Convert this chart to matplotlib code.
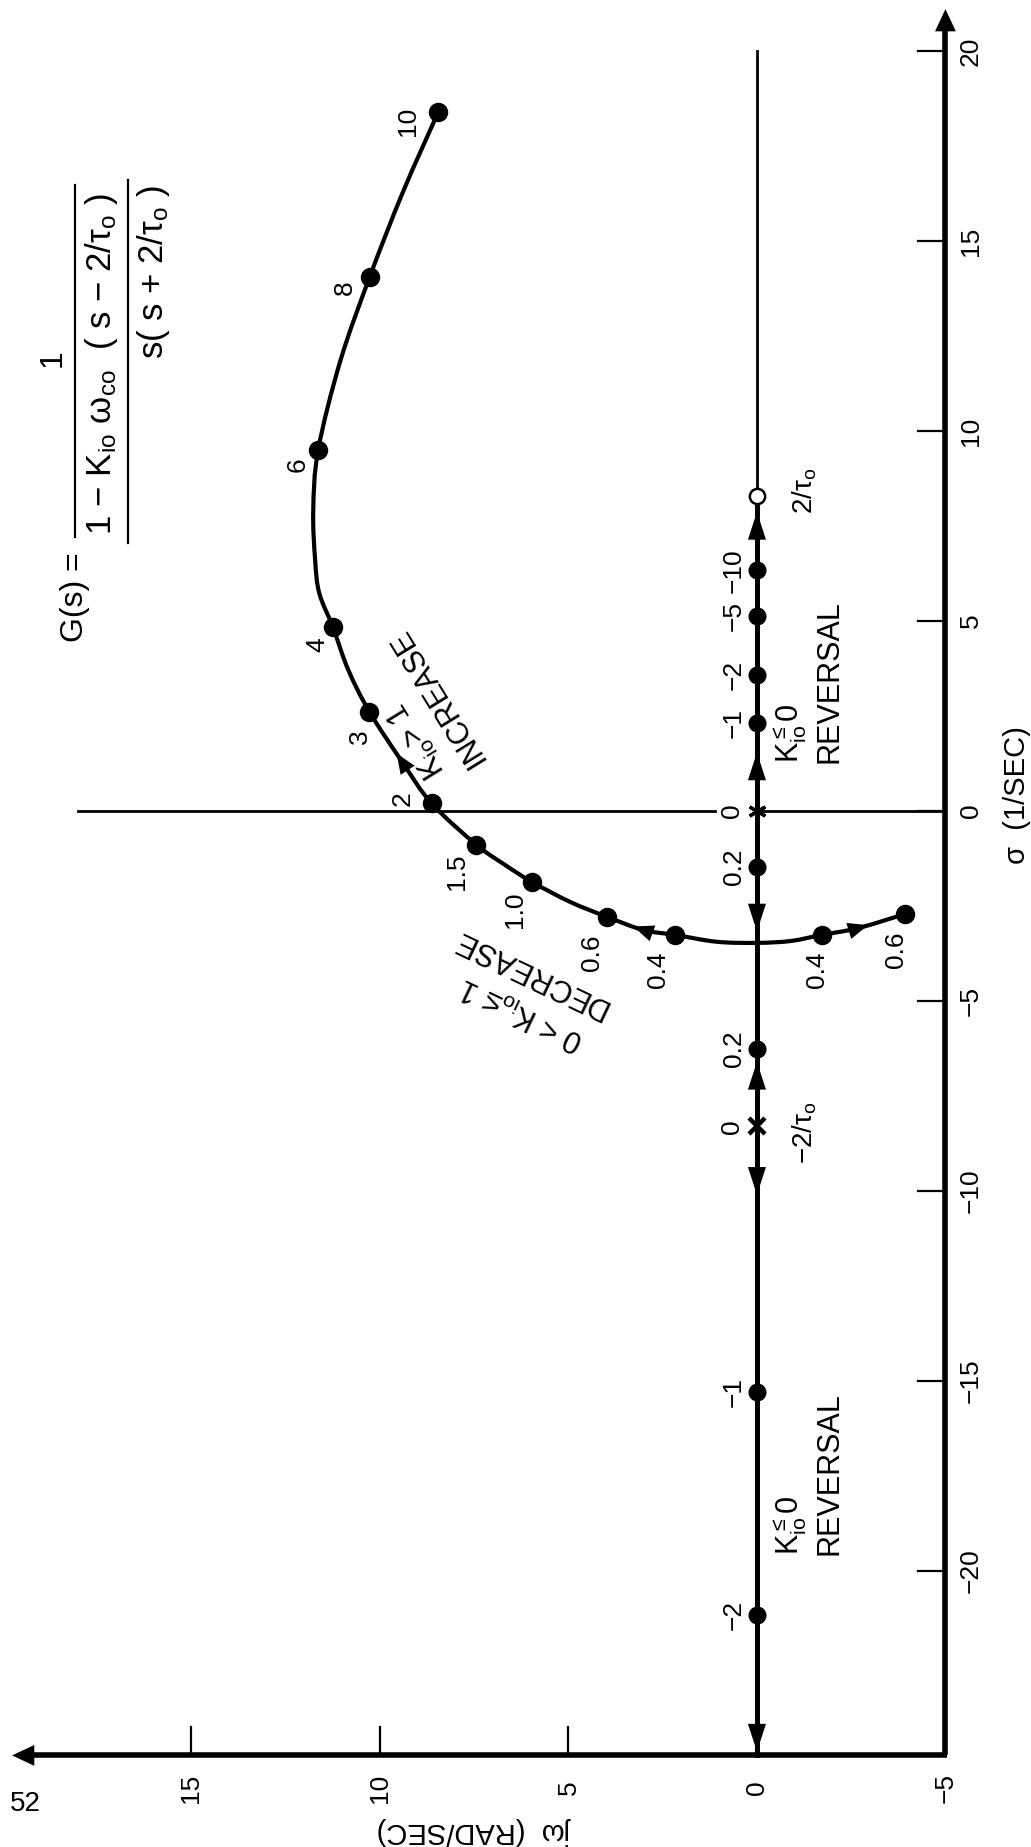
import matplotlib.pyplot as plt
from matplotlib.lines import Line2D
from matplotlib.path import Path
from matplotlib.patches import PathPatch

plt.rcParams['font.family'] = ['Liberation Sans', 'DejaVu Sans']
plt.rcParams['mathtext.default'] = 'regular'

W, H = 1031, 1847

# complex branch, gain labels and root positions (sigma, j omega)
upper_k = ['10', '8', '6', '4', '3', '2', '1.5', '1.0', '0.6', '0.4']
upper_sigma = [18.40, 14.06, 9.50, 4.84, 2.61, 0.20, -0.89, -1.86, -2.78, -3.26]
upper_jw = [8.45, 10.27, 11.64, 11.25, 10.28, 8.63, 7.44, 5.98, 3.99, 2.17]

lower_k = ['0.4', '0.6']
lower_sigma = [-3.26, -2.71]
lower_jw = [-1.72, -3.93]

# traced locus from K=10 through the breakaway to the lower end
path_sigma = [18.40, 16.29, 14.06, 11.85, 9.50, 7.92, 6.60, 5.73, 4.84, 3.71,
              2.61, 1.29, 0.20, -0.89, -1.42, -1.86, -2.39, -2.78, -3.13,
              -3.26, -3.44, -3.47, -3.42, -3.26, -3.08, -2.71]
path_jw = [8.45, 9.39, 10.27, 11.05, 11.64, 11.77, 11.72, 11.61, 11.25, 10.84,
           10.28, 9.41, 8.63, 7.44, 6.68, 5.98, 4.96, 3.99, 3.02,
           2.17, 1.07, 0.0, -0.90, -1.72, -2.69, -3.93]

# real-axis roots
right_k = ['0.2', '\u22121', '\u22122', '\u22125', '\u221210']
right_sigma = [-1.47, 2.32, 3.57, 5.13, 6.33]
left_k = ['0.2', '\u22121', '\u22122']
left_sigma = [-6.25, -15.28, -21.16]

two_over_tau = 8.3          # zero at +2/tau0, pole at -2/tau0
sigma_ticks = [-20, -15, -10, -5, 0, 5, 10, 15, 20]
jw_ticks = [15, 10, 5, 0, -5]

# direction arrows: sigma of the tip on the real axis, and +1 up / -1 down
axis_arrows = [(7.87, 1), (1.54, 1), (-3.17, -1), (-6.6, 1), (-10.1, -1), (-24.75, -1)]
# arrows on the curve: centre point and the dot they point toward
curve_arrows = [((1.29, 9.41), (2.61, 10.28)),
                ((-3.13, 3.02), (-2.78, 3.99)),
                ((-3.08, -2.69), (-2.71, -3.93))]

SIG_MIN = -24.85   # bottom frame line
JW_MIN = -5.0      # right frame line

fig = plt.figure(figsize=(W / 100, H / 100), dpi=100)
ax = fig.add_axes([0, 0, 1, 1])
ax.set_xlim(20.08, -7.27)
ax.set_ylim(-27.26, 21.34)
ax.axis('off')


def head(x, y, dx, dy, length=2.0, width=0.65):
    # filled arrowhead, tip at (x, y), pointing along (dx, dy)
    ax.annotate('', xy=(x, y), xytext=(x - dx, y - dy),
                arrowprops=dict(arrowstyle=f'-|>,head_length={length},head_width={width}',
                                mutation_scale=10, lw=0, fc='k', ec='k',
                                shrinkA=0, shrinkB=0), zorder=6)


def vtext(x, y, s, size=19, rot=90, ha='center', va='center', **kw):
    ax.text(x, y, s, fontsize=size, rotation=rot, ha=ha, va=va,
            rotation_mode='anchor', **kw)


def smooth_path(xs, ys):
    # Catmull-Rom through the traced points, drawn as cubic Bezier pieces
    pts = list(zip(xs, ys))
    pts = [pts[0]] + pts + [pts[-1]]
    verts = [pts[1]]
    codes = [Path.MOVETO]
    for i in range(1, len(pts) - 2):
        p0, p1, p2, p3 = pts[i - 1], pts[i], pts[i + 1], pts[i + 2]
        c1 = (p1[0] + (p2[0] - p0[0]) / 6, p1[1] + (p2[1] - p0[1]) / 6)
        c2 = (p2[0] - (p3[0] - p1[0]) / 6, p2[1] - (p3[1] - p1[1]) / 6)
        verts += [c1, c2, p2]
        codes += [Path.CURVE4] * 3
    return Path(verts, codes)


# frame: sigma axis on the right, j omega axis at the bottom
ax.plot([JW_MIN, JW_MIN], [SIG_MIN, 20.6], color='k', lw=4, solid_capstyle='butt')
head(JW_MIN, 21.1, 0, 1.5, length=1.6, width=0.75)
ax.plot([JW_MIN - 0.05, 19.2], [SIG_MIN, SIG_MIN], color='k', lw=4, solid_capstyle='butt')
head(19.76, SIG_MIN, 1.5, 0, length=1.6, width=0.75)

for s in sigma_ticks:
    ax.plot([JW_MIN, JW_MIN + 0.74], [s, s], color='k', lw=1.6)
    vtext(-5.68, s, str(s).replace('-', '\u2212'))
for w in jw_ticks:
    if w in (5, 10, 15):
        ax.plot([w, w], [SIG_MIN, SIG_MIN + 0.76], color='k', lw=1.6)
    vtext(w, -25.71, str(w).replace('-', '\u2212'))

vtext(-6.9, 0.42, '\u03c3  (1/SEC)', size=21)
vtext(7.5, -26.85, 'j\u03c9  (RAD/SEC)', size=21, rot=180)

# imaginary axis (sigma = 0), broken for the "0" label
ax.plot([18.0, 1.11], [0, 0], color='k', lw=2)
ax.plot([0, JW_MIN], [0, 0], color='k', lw=2)

# real axis: thin beyond the zero, heavy where it is part of the locus
ax.plot([0, 0], [two_over_tau, 20.0], color='k', lw=2)
ax.plot([0, 0], [SIG_MIN, two_over_tau], color='k', lw=3.6)

# complex branch
ax.add_patch(PathPatch(smooth_path(path_jw, path_sigma), fc='none', ec='k',
                       lw=3.0, joinstyle='round', capstyle='round'))
ax.plot(upper_jw, upper_sigma, 'o', color='k', ms=13, zorder=5)
ax.plot(lower_jw, lower_sigma, 'o', color='k', ms=13, zorder=5)

# real-axis roots, poles and zero
ax.plot([0] * len(right_sigma), right_sigma, 'o', color='k', ms=12, zorder=5)
ax.plot([0] * len(left_sigma), left_sigma, 'o', color='k', ms=12, zorder=5)
ax.plot([0], [two_over_tau], 'o', mfc='white', mec='k', mew=1.8, ms=11, zorder=7)
ax.plot([0], [-two_over_tau], 'x', color='k', mew=3.2, ms=12, zorder=7)
ax.plot([0], [0], marker=(6, 2, 0), color='k', mew=2.4, ms=13, zorder=7)

for s, d in axis_arrows:
    head(0, s, 0, 1.5 * d)
for (cs, cw), (ts, tw) in curve_arrows:
    ds, dw = ts - cs, tw - cw
    n = (ds ** 2 + dw ** 2) ** 0.5
    ds, dw = ds / n, dw / n
    head(cw + 0.27 * dw, cs + 0.27 * ds, 1.2 * dw, 1.2 * ds, length=1.45, width=0.6)

# gain labels
upper_off = [(-30, -10), (-25, -11), (-21, -15), (-15, -18), (-9, -25),
             (-29, 5), (-19, -27), (-17, -28), (-15, -36), (-17, -35)]
for k, s, w, (ox, oy) in zip(upper_k, upper_sigma, upper_jw, upper_off):
    ax.annotate(k, (w, s), xytext=(ox, oy), textcoords='offset pixels',
                rotation=90, ha='center', va='center', fontsize=19)
for k, s, w, (ox, oy) in zip(lower_k, lower_sigma, lower_jw, [(-5, -35), (-9, -36)]):
    ax.annotate(k, (w, s), xytext=(ox, oy), textcoords='offset pixels',
                rotation=90, ha='center', va='center', fontsize=19)
for k, s in zip(right_k + left_k, right_sigma + left_sigma):
    ax.annotate(k, (0, s), xytext=(-23, 0), textcoords='offset pixels',
                rotation=90, ha='center', va='center', fontsize=19)
for s in (0, -two_over_tau):
    ax.annotate('0', (0, s), xytext=(-25, 0), textcoords='offset pixels',
                rotation=90, ha='center', va='center', fontsize=19)
ax.annotate('2/\u03c4$_o$', (0, two_over_tau), xytext=(48, 5), textcoords='offset pixels',
            rotation=90, ha='center', va='center', fontsize=20)
ax.annotate('\u22122/\u03c4$_o$', (0, -two_over_tau), xytext=(48, -6), textcoords='offset pixels',
            rotation=90, ha='center', va='center', fontsize=20)

# region notes
for s0 in (1.26, -19.58):
    vtext(-0.88, s0, r'K$_{io}^{\leq}$0', size=22, ha='left')
    vtext(-1.92, s0, 'REVERSAL', size=22, ha='left')
vtext(8.49, 3.0, 'INCREASE', size=22, rot=121.7)
vtext(9.02, 1.87, 'K$_{io}$> 1', size=22, rot=121.7)
vtext(6.02, -4.26, 'DECREASE', size=22, rot=154.5)
vtext(6.23, -5.32, '0 < K$_{io}$\u2264 1', size=22, rot=154.5)


# transfer function, written along the page edge
def fpx(x, y):
    return x / W, 1 - y / H


fig.text(*fpx(75, 597), 'G(s) =', fontsize=23, rotation=90, ha='center', va='center')
fig.text(*fpx(53, 358), '1', fontsize=23, rotation=90, ha='center', va='center')
fig.add_artist(Line2D([75 / W, 75 / W], [1 - 537 / H, 1 - 185 / H], color='k', lw=1.6))
fig.text(*fpx(102, 535), '1 \u2212 K$_{io}$ \u03c9$_{co}$  ( s \u2212 2/\u03c4$_o$ )', fontsize=25,
         rotation=90, ha='left', va='center', rotation_mode='anchor')
fig.add_artist(Line2D([128 / W, 128 / W], [1 - 543 / H, 1 - 180 / H], color='k', lw=1.6))
fig.text(*fpx(153, 185), 's( s + 2/\u03c4$_o$ )', fontsize=25,
         rotation=90, ha='right', va='center', rotation_mode='anchor')

fig.text(*fpx(25, 1804), '52', fontsize=20, ha='center', va='center')

fig.savefig('out.png', dpi=100)
